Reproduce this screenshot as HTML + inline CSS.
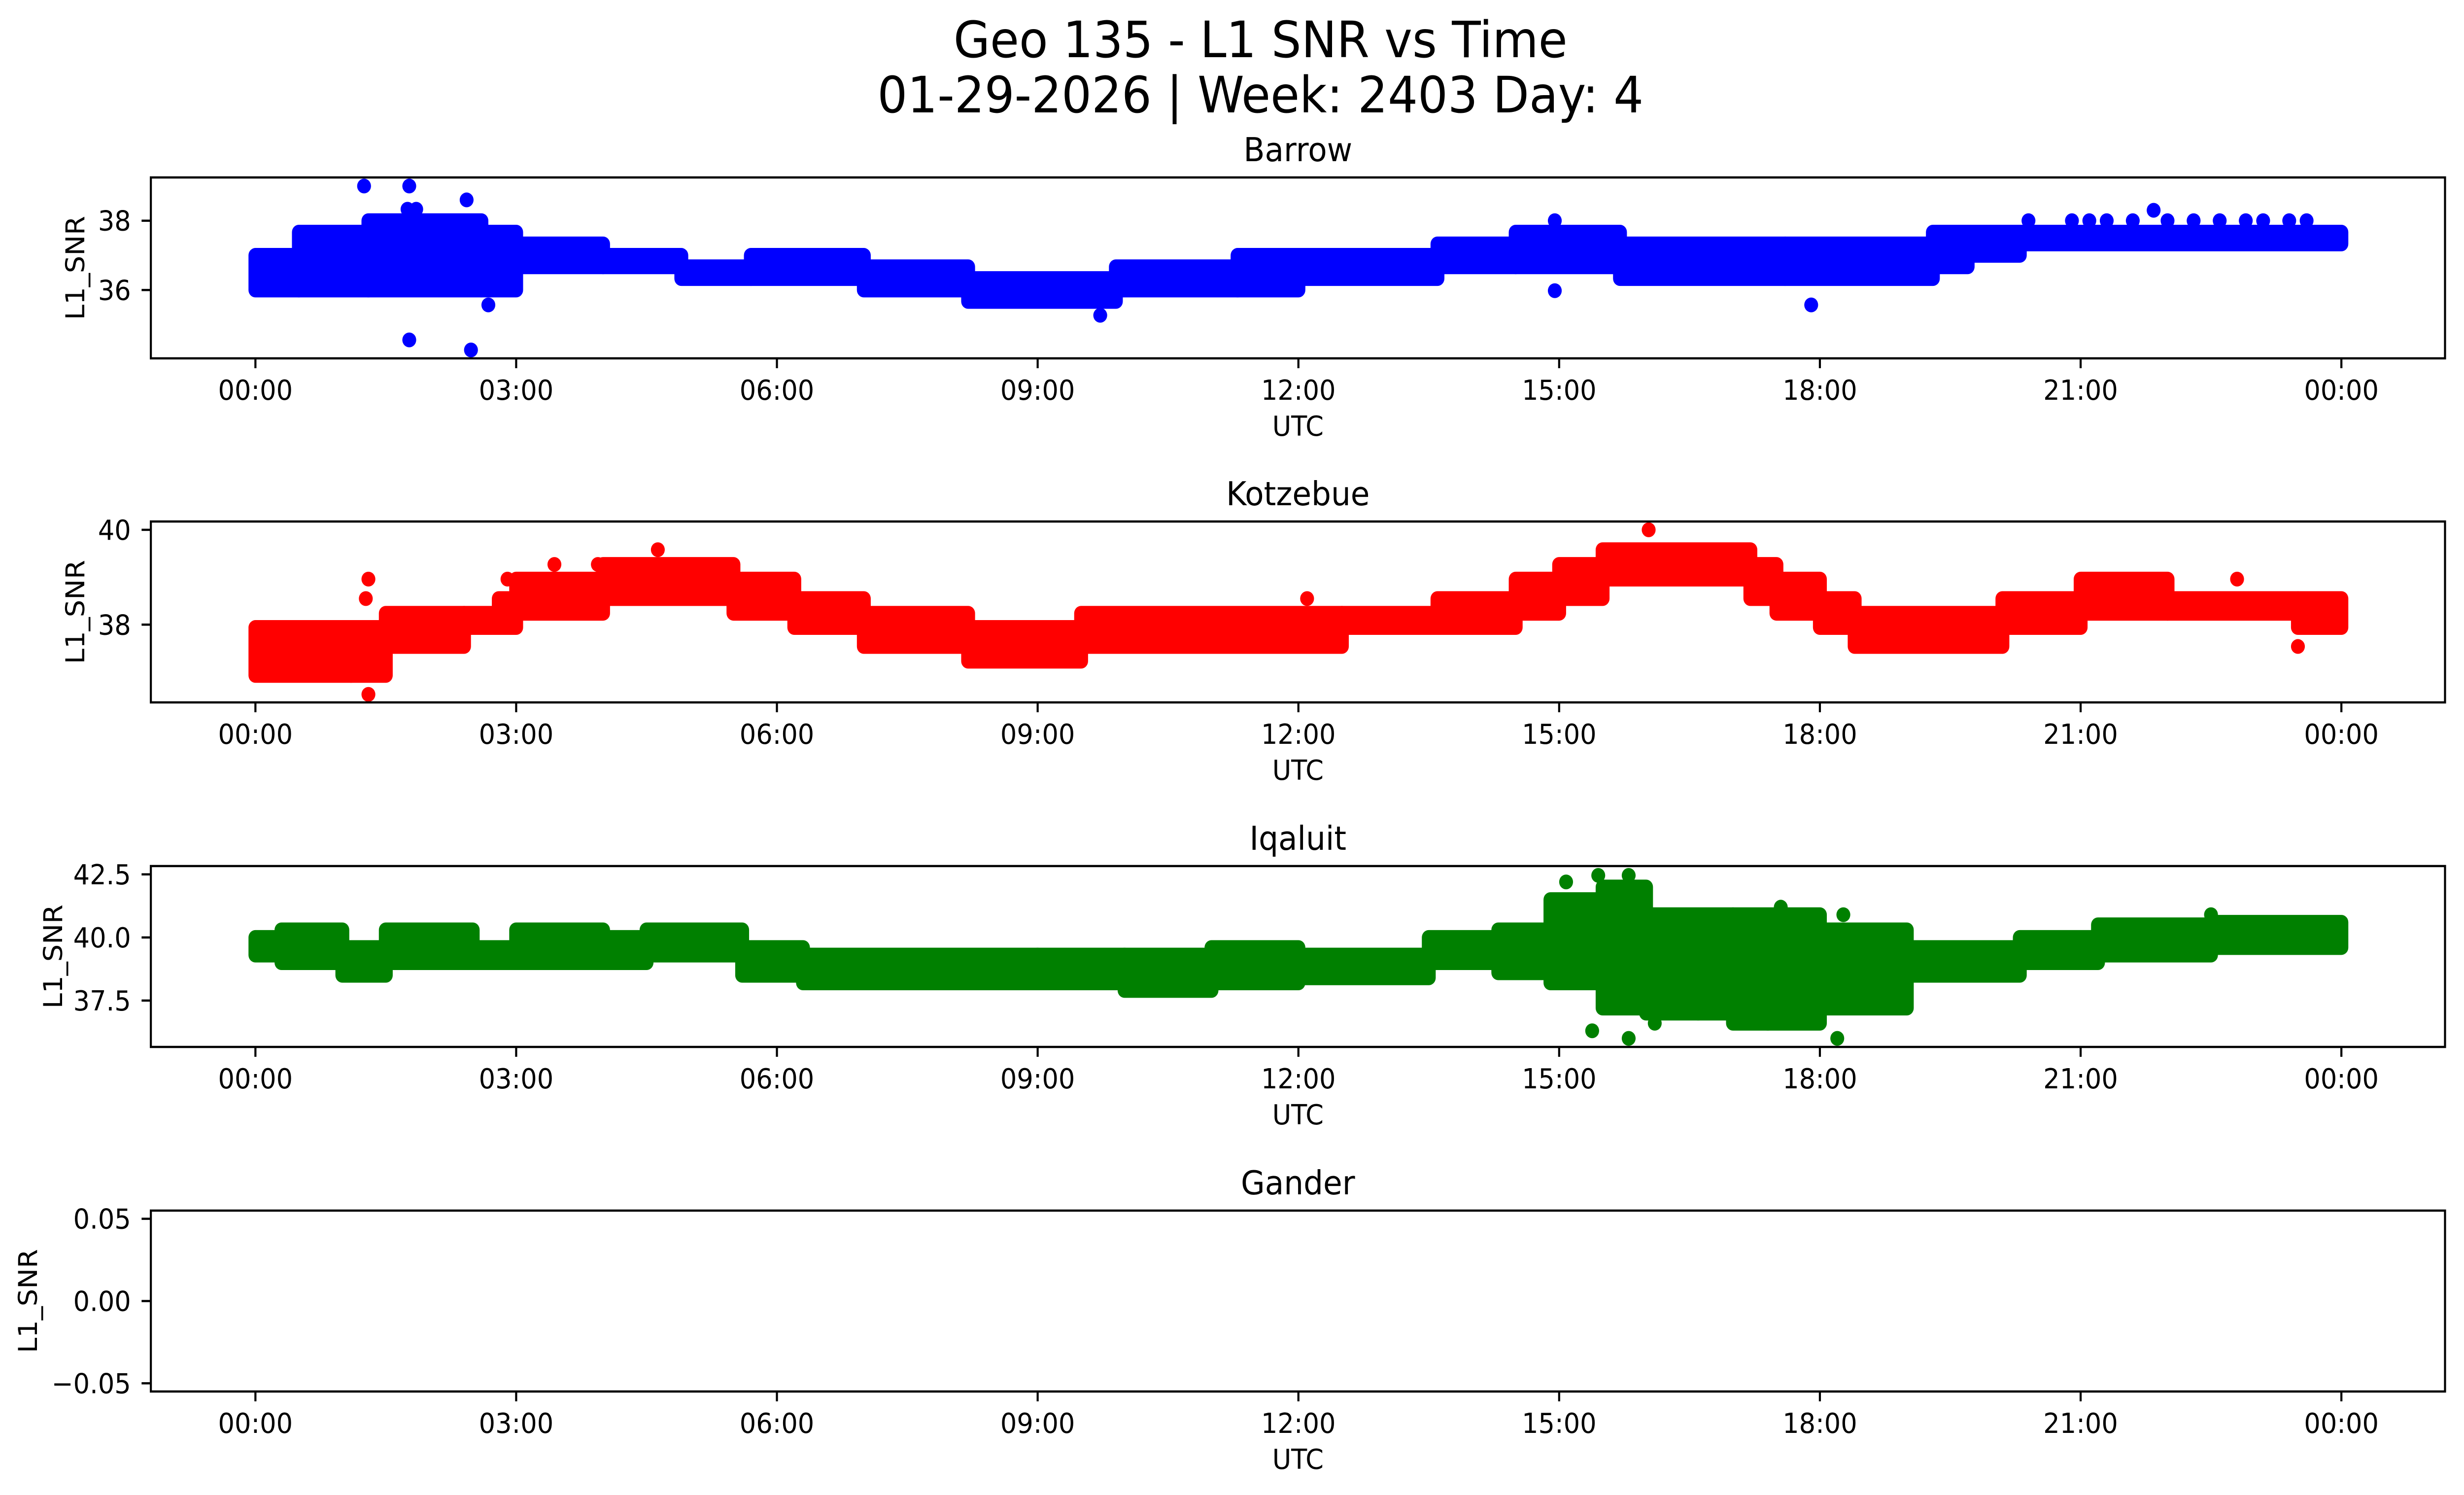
<!DOCTYPE html>
<html><head><meta charset="utf-8"><title>Geo 135 - L1 SNR vs Time</title>
<style>html,body{margin:0;padding:0;background:#fff;overflow:hidden;width:100vw;height:100vh}svg{display:block;width:100vw;height:100vh}text{font-family:"DejaVu Sans","Liberation Sans",sans-serif;fill:#000}</style>
</head><body>
<svg id="fig" xmlns="http://www.w3.org/2000/svg" viewBox="0 0 5325 3033" preserveAspectRatio="none">
<rect width="5325" height="3033" fill="#fff"/>
<text x="2724" y="116" font-size="102" text-anchor="middle">Geo 135 - L1 SNR vs Time</text>
<text x="2724" y="228" font-size="102" text-anchor="middle">01-29-2026 | Week: 2403 Day: 4</text>
<g id="panels"></g>
</svg>
<script>
// x-axis ticks (hours) and labels
const xTickHours = [0, 3, 6, 9, 12, 15, 18, 21, 24];
const xTickLabels = ["00:00","03:00","06:00","09:00","12:00","15:00","18:00","21:00","00:00"];

// Barrow
const barrowEdges = [0,0.5,1.3,2.6,3.0,4.0,4.9,5.7,7.0,8.2,9.9,11.3,12.0,13.6,14.5,15.7,17.6,19.3,19.7,20.3,24.0];
const barrowHi = [37.0,37.67,38.0,37.67,37.33,37.0,36.67,37.0,36.67,36.33,36.67,37.0,37.0,37.33,37.67,37.33,37.33,37.67,37.67,37.67];
const barrowLo = [36.0,36.0,36.0,36.0,36.67,36.67,36.33,36.33,36.0,35.67,36.0,36.0,36.33,36.67,36.67,36.33,36.33,36.67,37.0,37.33];
const barrowSpikeT = [1.25,1.77,2.43,1.75,1.85,1.77,2.48,2.68,9.72,14.95,14.95,17.9,21.84,20.4,20.9,21.1,21.3,21.6,22.0,22.3,22.6,22.9,23.1,23.4,23.6];
const barrowSpikeV = [39.0,39.0,38.6,38.33,38.33,34.56,34.27,35.57,35.27,38.0,35.98,35.57,38.3,38.0,38.0,38.0,38.0,38.0,38.0,38.0,38.0,38.0,38.0,38.0,38.0];
const barrowYTicks = [36, 38];

// Kotzebue
const kotzEdges = [0,1.5,2.4,2.8,3.0,4.0,5.5,6.2,7.0,8.2,9.5,12.5,13.6,14.5,15.0,15.5,17.2,17.5,18.0,18.4,20.1,21.0,22.0,23.5,24.0];
const kotzHi = [37.94,38.24,38.24,38.55,38.96,39.27,38.96,38.55,38.24,37.94,38.24,38.24,38.55,38.96,39.27,39.58,39.27,38.96,38.55,38.24,38.55,38.96,38.55,38.55];
const kotzLo = [36.93,37.54,37.94,37.94,38.24,38.55,38.24,37.94,37.54,37.23,37.54,37.94,37.94,38.24,38.55,38.96,38.55,38.24,37.94,37.54,37.94,38.24,38.24,37.94];
const kotzSpikeT = [16.03,1.3,1.3,1.27,2.9,3.44,3.94,4.63,12.1,23.5,22.8,1.1];
const kotzSpikeV = [40.0,36.53,38.96,38.55,38.96,39.27,39.27,39.58,38.55,37.54,38.96,36.93];
const kotzYTicks = [38, 40];

// Iqaluit
const iqEdges = [0,0.3,1.0,1.5,2.5,3.0,4.0,4.5,5.6,6.3,9.0,10.0,11.0,12.0,13.5,14.3,14.9,15.5,16.0,17.0,18.0,19.0,20.3,21.2,22.5,24.0];
const iqHi = [40.0,40.3,39.6,40.3,39.6,40.3,40.0,40.3,39.6,39.3,39.3,39.3,39.6,39.3,40.0,40.3,41.5,42.0,40.9,40.9,40.3,39.6,40.0,40.5,40.6];
const iqLo = [39.3,39.0,38.5,39.0,39.0,39.0,39.0,39.3,38.5,38.2,38.2,37.9,38.2,38.4,39.0,38.6,38.2,37.2,37.0,36.6,37.2,38.5,39.0,39.3,39.6];
const iqSpikeT = [15.08,15.45,15.8,17.55,18.27,22.5,15.38,15.8,16.1,16.6,17.4,18.2,17.8];
const iqSpikeV = [42.2,42.46,42.46,41.2,40.9,40.9,36.3,36.0,36.6,37.0,36.6,36.0,37.0];
const iqYTicks = [37.5, 40.0, 42.5];
const iqYLabels = ["37.5","40.0","42.5"];

// Gander (no data)
const ganderYTicks = [-0.05, 0.0, 0.05];
const ganderYLabels = ["\u22120.05","0.00","0.05"];

const NS = "http://www.w3.org/2000/svg";
const AX_L = 326, AX_R = 5284, X0 = 552, PX_PER_H = 4508 / 24, R = 15;
function xs(h){ return X0 + h * PX_PER_H; }
function mk(tag, attrs, parent){ const e = document.createElementNS(NS, tag); for (const k in attrs) e.setAttribute(k, attrs[k]); parent.appendChild(e); return e; }

const panels = document.getElementById("panels");

function panel(cfg){
  const g = mk("g", {}, panels);
  
  
  const top = cfg.top, bot = cfg.top + 367;
  const ys = v => top + (cfg.ymax - v) / (cfg.ymax - cfg.ymin) * (bot - top);
  const clipId = "clip-" + cfg.key;
  const cp = mk("clipPath", {id: clipId}, g);
  mk("rect", {x: AX_L, y: top, width: AX_R - AX_L, height: bot - top}, cp);
  const marks = mk("g", {"clip-path": "url(#" + clipId + ")", fill: cfg.color}, g);
  
  
  if (cfg.edges) {
    for (let i = 0; i < cfg.hi.length; i++) {
      const x0 = xs(cfg.edges[i]), x1 = xs(cfg.edges[i+1]);
      const y0 = ys(cfg.hi[i]), y1 = ys(cfg.lo[i]);
      const r = mk("rect", {x: x0 - R, y: y0 - R, width: x1 - x0 + 2*R, height: y1 - y0 + 2*R, rx: R, ry: R}, marks);
      
      
    }
    for (let i = 0; i < cfg.spikeT.length; i++) {
      const c = mk("circle", {cx: xs(cfg.spikeT[i]), cy: ys(cfg.spikeV[i]), r: R}, marks);
      
      
    }
  }
  const fr = mk("rect", {x: AX_L, y: top, width: AX_R - AX_L, height: bot - top, fill: "none", stroke: "#000", "stroke-width": 4.5}, g);
  
  
  for (let i = 0; i < xTickHours.length; i++) {
    const x = xs(xTickHours[i]);
    mk("line", {x1: x, x2: x, y1: bot, y2: bot + 20, stroke: "#000", "stroke-width": 4.5}, g);
    const t = mk("text", {x: x, y: bot + 84, "font-size": 56, "text-anchor": "middle"}, g);
    t.textContent = xTickLabels[i];
    
    
  }
  const xl = mk("text", {x: 2805, y: bot + 157, "font-size": 56, "text-anchor": "middle"}, g);
  xl.textContent = "UTC";
  
  
  for (let i = 0; i < cfg.yTicks.length; i++) {
    const y = ys(cfg.yTicks[i]);
    mk("line", {x1: AX_L - 20, x2: AX_L, y1: y, y2: y, stroke: "#000", "stroke-width": 4.5}, g);
    const t = mk("text", {x: 283, y: y + 20, "font-size": 56, "text-anchor": "end"}, g);
    t.textContent = cfg.yLabels[i];
    
    
  }
  const cy = (top + bot) / 2;
  const yl = mk("text", {x: cfg.ylabX, y: cy, "font-size": 56, "text-anchor": "middle", transform: "rotate(-90 " + cfg.ylabX + " " + cy + ")"}, g);
  yl.textContent = "L1_SNR";
  
  
  const tt = mk("text", {x: 2805, y: top - 33, "font-size": 67, "text-anchor": "middle"}, g);
  tt.textContent = cfg.title;
  
  
}

panel({key:"barrow", title:"Barrow", top:360, ymin:34.028, ymax:39.248, color:"#0000ff",
  edges:barrowEdges, hi:barrowHi, lo:barrowLo, spikeT:barrowSpikeT, spikeV:barrowSpikeV,
  yTicks:barrowYTicks, yLabels:barrowYTicks.map(String), ylabX:182});
panel({key:"kotzebue", title:"Kotzebue", top:1058, ymin:36.361, ymax:40.175, color:"#ff0000",
  edges:kotzEdges, hi:kotzHi, lo:kotzLo, spikeT:kotzSpikeT, spikeV:kotzSpikeV,
  yTicks:kotzYTicks, yLabels:kotzYTicks.map(String), ylabX:182});
panel({key:"iqaluit", title:"Iqaluit", top:1757, ymin:35.66, ymax:42.83, color:"#008000",
  edges:iqEdges, hi:iqHi, lo:iqLo, spikeT:iqSpikeT, spikeV:iqSpikeV,
  yTicks:iqYTicks, yLabels:iqYLabels, ylabX:134});
panel({key:"gander", title:"Gander", top:2456, ymin:-0.055, ymax:0.055, color:"#000",
  edges:null, yTicks:ganderYTicks, yLabels:ganderYLabels, ylabX:80});
</script>
</body></html>
